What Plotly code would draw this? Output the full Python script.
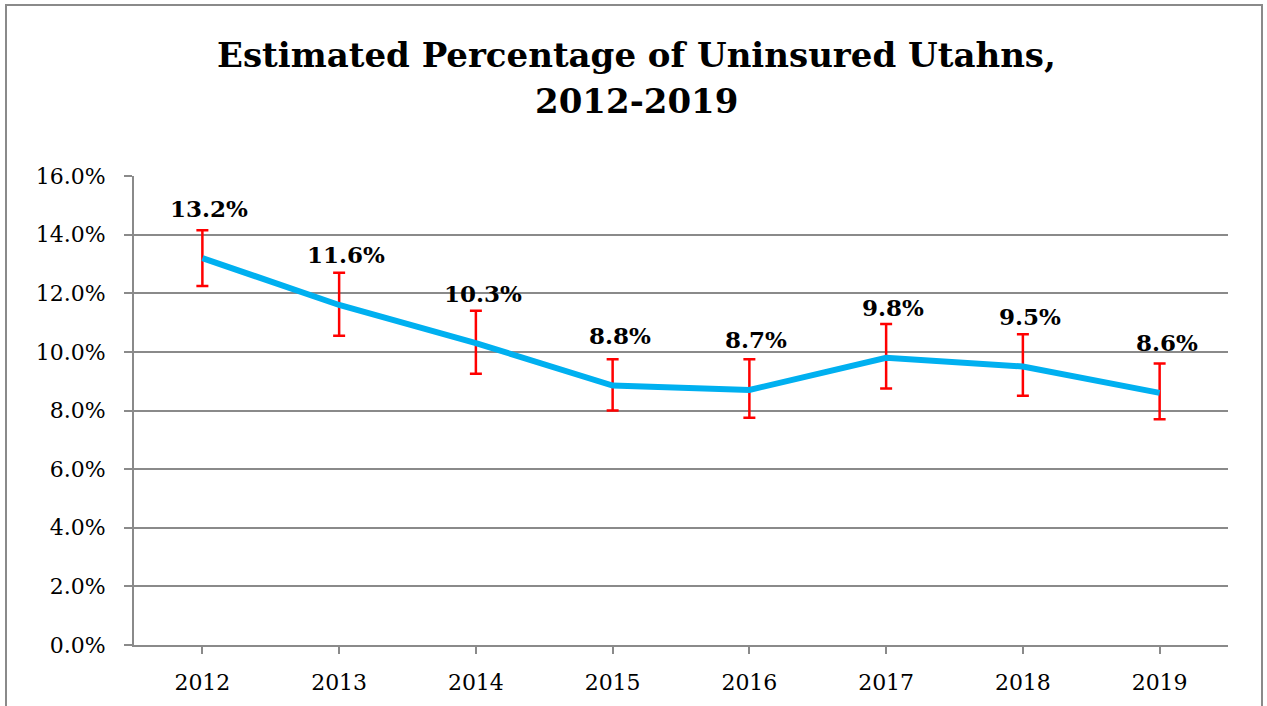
import plotly.graph_objects as go

years = ["2012", "2013", "2014", "2015", "2016", "2017", "2018", "2019"]
pct = [13.2, 11.6, 10.3, 8.85, 8.7, 9.8, 9.5, 8.6]
labels = ["13.2%", "11.6%", "10.3%", "8.8%", "8.7%", "9.8%", "9.5%", "8.6%"]
err_plus = [0.95, 1.1, 1.1, 0.9, 1.05, 1.15, 1.1, 1.0]
err_minus = [0.95, 1.05, 1.05, 0.85, 0.95, 1.05, 1.0, 0.9]
yticks = [0, 2, 4, 6, 8, 10, 12, 14, 16]
ytick_text = ["0.0%", "2.0%", "4.0%", "6.0%", "8.0%", "10.0%", "12.0%", "14.0%", "16.0%"]

FONT = "DejaVu Serif"
W, H = 1267, 706
L, R, T, B = 134, 39, 176, 61
pw, ph = W - L - R, H - T - B
GRAY = "#8a8a8a"

fig = go.Figure()
fig.add_trace(go.Scatter(
    x=years, y=pct, mode="lines",
    line=dict(color="#00B0F0", width=6),
    error_y=dict(type="data", symmetric=False, array=err_plus, arrayminus=err_minus,
                 color="#FF0000", thickness=2.5, width=6),
    hoverinfo="skip", showlegend=False,
))

for i, (v, t) in enumerate(zip(pct, labels)):
    fig.add_annotation(x=i, y=v, xref="x", yref="y", text="<b>%s</b>" % t,
                       showarrow=False, xshift=7, yshift=50,
                       xanchor="center", yanchor="middle",
                       font=dict(family=FONT, size=23, color="black"))

tx = (636 - L) / pw
fig.add_annotation(text="<b>Estimated Percentage of Uninsured Utahns,</b>",
                   xref="paper", yref="paper", x=tx, y=(H - B - 55) / ph,
                   xanchor="center", yanchor="middle", showarrow=False,
                   font=dict(family=FONT, size=34, color="black"))
fig.add_annotation(text="<b>2012-2019</b>",
                   xref="paper", yref="paper", x=tx, y=(H - B - 101) / ph,
                   xanchor="center", yanchor="middle", showarrow=False,
                   font=dict(family=FONT, size=34, color="black"))

# outer frame
fig.add_shape(type="rect", xref="paper", yref="paper",
              x0=(6 - L) / pw, x1=(1262 - L) / pw,
              y0=(H - B - 720) / ph, y1=(H - B - 5) / ph,
              line=dict(color=GRAY, width=2), layer="below")
# end tick on the category axis
fig.add_shape(type="line", xref="x", yref="y", x0=7.5, x1=7.5,
              ysizemode="pixel", yanchor=0, y0=0, y1=-7,
              line=dict(color=GRAY, width=2))

fig.update_layout(
    width=W, height=H,
    margin=dict(l=L, r=R, t=T, b=B),
    plot_bgcolor="white", paper_bgcolor="white",
    font=dict(family=FONT, color="black"),
)
fig.update_xaxes(
    type="category", range=[-0.5, 7.5], showgrid=False,
    showline=True, linecolor=GRAY, linewidth=2,
    ticks="outside", ticklen=7, tickcolor=GRAY, tickwidth=2,
    ticklabelstandoff=10,
    tickfont=dict(family=FONT, size=22), fixedrange=True,
)
fig.update_yaxes(
    range=[0, 16], tickvals=yticks, ticktext=ytick_text,
    showgrid=True, gridcolor=GRAY, gridwidth=2,
    showline=True, linecolor=GRAY, linewidth=2,
    ticks="outside", ticklen=8, tickcolor=GRAY, tickwidth=2,
    ticklabelstandoff=14,
    tickfont=dict(family=FONT, size=22), zeroline=False, fixedrange=True,
)

fig.write_html("out.html", config={"displayModeBar": False},
               post_script="document.body.style.margin='0';")
